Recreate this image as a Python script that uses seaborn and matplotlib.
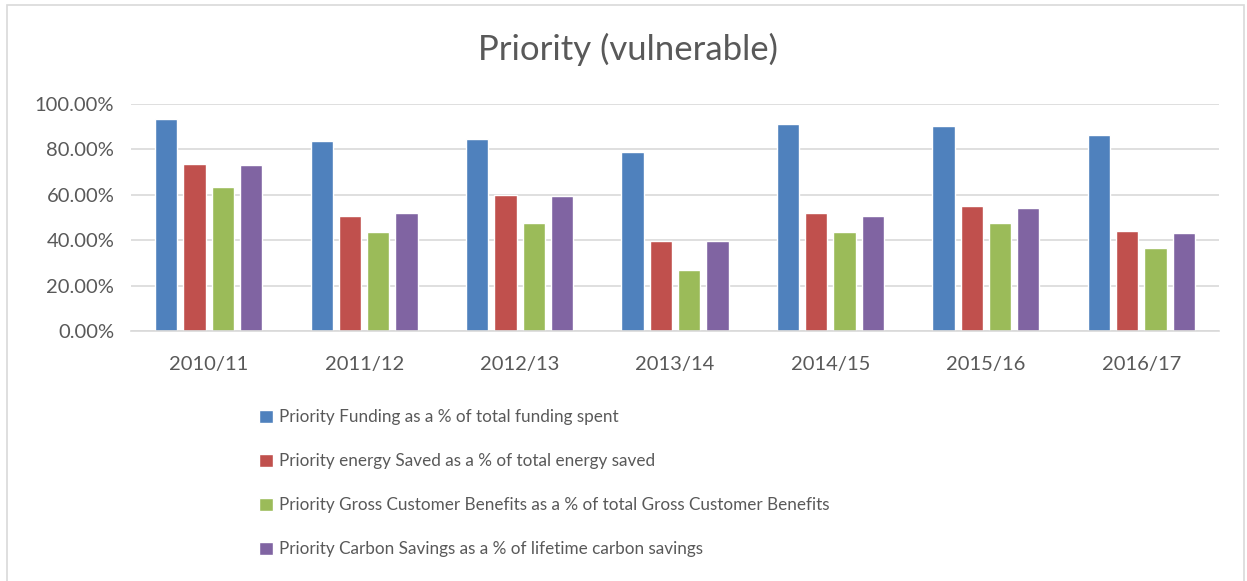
import matplotlib
matplotlib.use("Agg")
import matplotlib.pyplot as plt
import seaborn as sns
import pandas as pd
from matplotlib.patches import Rectangle
from matplotlib.ticker import FuncFormatter

years = ["2010/11", "2011/12", "2012/13", "2013/14", "2014/15", "2015/16", "2016/17"]
series_names = [
    "Priority Funding as a % of total funding spent",
    "Priority energy Saved as a % of total energy saved",
    "Priority Gross Customer Benefits as a % of total Gross Customer Benefits",
    "Priority Carbon Savings as a % of lifetime carbon savings",
]
funding = [0.934, 0.836, 0.846, 0.787, 0.910, 0.902, 0.865]
energy = [0.734, 0.507, 0.599, 0.398, 0.518, 0.551, 0.441]
benefits = [0.636, 0.436, 0.477, 0.270, 0.435, 0.474, 0.364]
carbon = [0.730, 0.518, 0.596, 0.395, 0.508, 0.542, 0.430]
colors = ["#4F81BD", "#C0504D", "#9BBB59", "#8064A2"]

rows = []
for name, vals in zip(series_names, [funding, energy, benefits, carbon]):
    for y, v in zip(years, vals):
        rows.append({"Year": y, "Series": name, "Value": v})
df = pd.DataFrame(rows)

sns.set_theme(style="white")
plt.rcParams['font.family'] = ['Lato', 'DejaVu Sans']
text_color = "#595959"

fig = plt.figure(figsize=(12.47, 5.81), dpi=100)
W, H = 1247, 581
ax = fig.add_axes([131 / W, (H - 331) / H, 1088 / W, 227 / H])

sns.barplot(data=df, x="Year", y="Value", hue="Series", order=years,
            hue_order=series_names, palette=colors, width=0.728, gap=0.21,
            saturation=1, ax=ax, errorbar=None, legend=True)

ax.set_ylim(0, 1.0)
ax.set_xlim(-0.5, 6.5)
ax.set_yticks([0, 0.2, 0.4, 0.6, 0.8, 1.0])
ax.yaxis.set_major_formatter(FuncFormatter(lambda v, p: f"{v*100:.2f}%"))
ax.grid(axis="y", color="#D9D9D9", linewidth=1.2)
ax.set_axisbelow(True)
for s in ["top", "right", "left"]:
    ax.spines[s].set_visible(False)
ax.spines["bottom"].set_color("#D9D9D9")
ax.spines["bottom"].set_linewidth(1.2)
ax.set_xlabel("")
ax.set_ylabel("")
ax.tick_params(axis="both", length=0, labelsize=14.5, colors=text_color)
ax.tick_params(axis="x", pad=18)
ax.tick_params(axis="y", pad=12)

fig.text(628 / W, 1 - 49 / H, "Priority (vulnerable)", ha="center", va="center",
         fontsize=25, color=text_color)

handles, labels = ax.get_legend_handles_labels()
ax.legend_.remove()
leg = fig.legend(handles, labels, loc="upper left",
                 bbox_to_anchor=(259 / W, 1 - 409 / H), frameon=False,
                 fontsize=12.3, labelcolor=text_color, handlelength=0.8,
                 handleheight=0.8, handletextpad=0.35, labelspacing=1.64,
                 borderaxespad=0, borderpad=0)

fig.patches.append(Rectangle((7 / W, -0.01), (1244 - 7) / W, 1 - 5 / H + 0.01,
                             transform=fig.transFigure, fill=False,
                             edgecolor="#D9D9D9", linewidth=1.2))

fig.savefig("out.png", dpi=100, facecolor="white")
